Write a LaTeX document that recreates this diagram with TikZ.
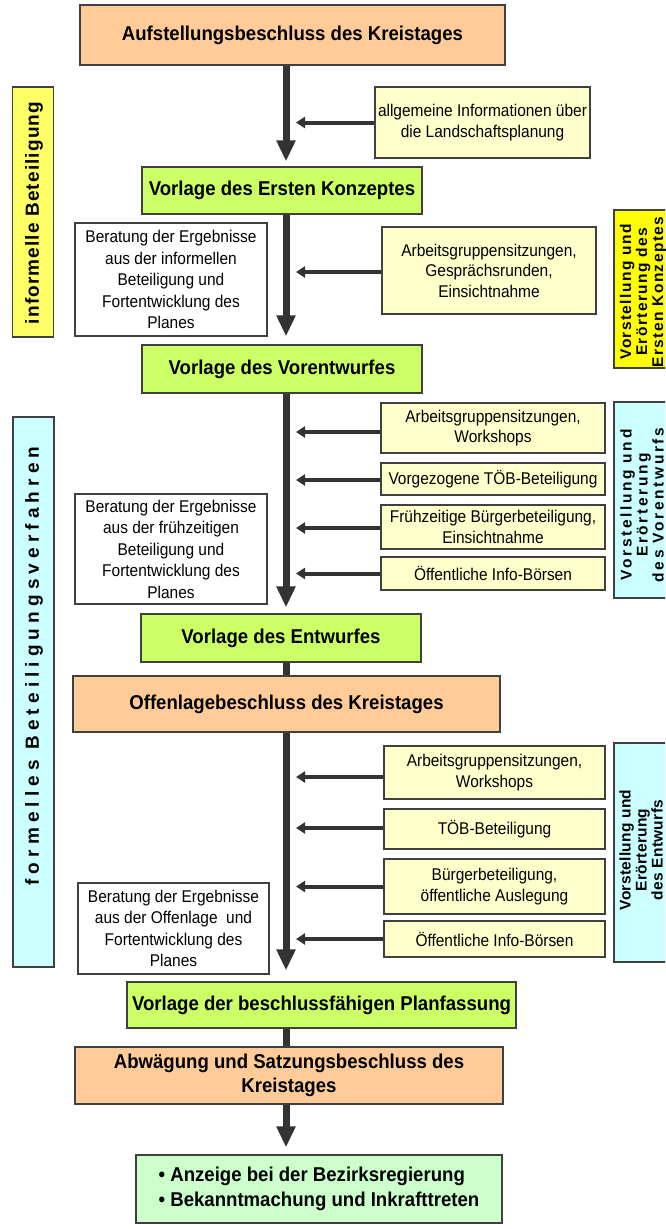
\documentclass[tikz,border=0pt]{standalone}
\usepackage{fontspec}
\setmainfont{Liberation Sans}[FakeStretch=0.91, BoldFeatures={FakeStretch=0.93}]
\newfontfamily\vfont{Liberation Sans}
\usetikzlibrary{arrows.meta,calc}
\definecolor{borderc}{HTML}{404040}
\definecolor{arrowc}{HTML}{333333}
\definecolor{orangef}{HTML}{FFCC99}
\definecolor{greenf}{HTML}{CCFF66}
\definecolor{lyellow}{HTML}{FFFFCC}
\definecolor{lblue}{HTML}{CCFFFF}
\definecolor{lgreen}{HTML}{CCFFCC}
\definecolor{yelA}{HTML}{FFFF66}
\definecolor{yelB}{HTML}{FFFF00}
\begin{document}
\begin{tikzpicture}[x=1pt,y=-1pt,
  box/.style={draw=borderc, line width=1.2pt, inner sep=0pt, align=center, rectangle},
  titlebox/.style={box, font=\fontsize{20}{23.5}\selectfont\bfseries},
  sidebox/.style={box, fill=lyellow, font=\fontsize{17}{20.5}\selectfont},
  leftbox/.style={box, fill=white, font=\fontsize{17}{21.5}\selectfont},
  vbox/.style={box},
  vtext/.style={rotate=90, align=center, inner sep=0pt},
  mainarrow/.style={draw=arrowc, line width=7pt, -{Triangle[width=18pt,length=21pt]}},
  stemline/.style={draw=arrowc, line width=7pt},
  sidearrow/.style={draw=arrowc, line width=4pt, -{Triangle[width=11pt,length=9pt]}}
]
\useasboundingbox (0,0) rectangle (665,1229);
\clip (0,0) rectangle (665,1229);
\fill[white] (0,0) rectangle (665,1229);
\coordinate (ax) at (286,0);
\coordinate (tipx) at (296,0);

% left vertical boxes
\node[vbox, fill=yelA, minimum width=41pt, minimum height=250pt] (infL) at (33,212) {};
\node[vtext, font=\vfont\bfseries\fontsize{19}{22}\selectfont\addfontfeature{LetterSpace=6}] (infLt) at (34,213) {informelle Beteiligung};
\node[vbox, fill=lblue, minimum width=41pt, minimum height=550pt] (formL) at (33.5,692) {};
\node[vtext, font=\vfont\bfseries\fontsize{19}{22}\selectfont\addfontfeature{LetterSpace=27}] (formLt) at (34,666) {formelles Beteiligungsverfahren};

% right vertical boxes
\node[vbox, fill=yelB, minimum width=58pt, minimum height=158pt] (yR1) at (643,289) {};
\node[vtext, font=\vfont\bfseries\fontsize{15.5}{16}\selectfont\addfontfeature{LetterSpace=9}] (yR1t) at (643,292) {Vorstellung und\\Erörterung des\\Ersten Konzeptes};
\node[vbox, fill=lblue, minimum width=58pt, minimum height=196pt] (bR2) at (643,500) {};
\node[vtext, font=\vfont\bfseries\fontsize{15.5}{16}\selectfont\addfontfeature{LetterSpace=17}] (bR2t) at (642,505) {Vorstellung und\\Erörterung\\des Vorentwurfs};
\node[vbox, fill=lblue, minimum width=58pt, minimum height=219pt] (bR3) at (643,852.5) {};
\node[vtext, font=\vfont\bfseries\fontsize{15.5}{16}\selectfont\addfontfeature{LetterSpace=2}] (bR3t) at (641,850) {Vorstellung und\\Erörterung\\des Entwurfs};

% main flow
\node[titlebox, fill=orangef, minimum width=425pt, minimum height=60pt] (top) at (292.5,35) {Aufstellungsbeschluss des Kreistages};
\node[sidebox, minimum width=215pt, minimum height=71pt] (info1) at (482.5,122.5) {allgemeine Informationen über\\die Landschaftsplanung};
\node[titlebox, fill=greenf, minimum width=280pt, minimum height=47pt] (g1) at (282,190.5) {Vorlage des Ersten Konzeptes};
\node[leftbox, minimum width=192pt, minimum height=113pt] (bl1) at (171,279.5) {Beratung der Ergebnisse\\aus der informellen\\Beteiligung und\\Fortentwicklung des\\Planes};
\node[sidebox, minimum width=214pt, minimum height=87pt] (info2) at (489,270.5) {Arbeitsgruppensitzungen,\\Gesprächsrunden,\\Einsichtnahme};
\node[titlebox, fill=greenf, minimum width=280pt, minimum height=48pt] (g2) at (282,369) {Vorlage des Vorentwurfes};

\node[sidebox, minimum width=224pt, minimum height=50pt] (r1) at (493,428) {Arbeitsgruppensitzungen,\\Workshops};
\node[sidebox, minimum width=224pt, minimum height=32pt] (r2) at (493,479) {Vorgezogene TÖB-Beteiligung};
\node[sidebox, minimum width=224pt, minimum height=44pt] (r3) at (493,527) {Frühzeitige Bürgerbeteiligung,\\Einsichtnahme};
\node[sidebox, minimum width=224pt, minimum height=33pt] (r4) at (493,573.5) {Öffentliche Info-Börsen};
\node[leftbox, minimum width=192pt, minimum height=110pt] (bl2) at (171,549) {Beratung der Ergebnisse\\aus der frühzeitigen\\Beteiligung und\\Fortentwicklung des\\Planes};

\node[titlebox, fill=greenf, minimum width=280pt, minimum height=48pt] (g3) at (281,638) {Vorlage des Entwurfes};
\node[titlebox, fill=orangef, minimum width=427pt, minimum height=56pt] (o2) at (286.5,704) {Offenlagebeschluss des Kreistages};

\node[sidebox, minimum width=221pt, minimum height=53pt] (s1) at (494.5,772.5) {Arbeitsgruppensitzungen,\\Workshops};
\node[sidebox, minimum width=221pt, minimum height=40pt] (s2) at (494.5,829) {TÖB-Beteiligung};
\node[sidebox, minimum width=221pt, minimum height=55pt] (s3) at (494.5,886.5) {Bürgerbeteiligung,\\öffentliche Auslegung};
\node[sidebox, minimum width=221pt, minimum height=36pt] (s4) at (494.5,939) {Öffentliche Info-Börsen};
\node[leftbox, minimum width=191pt, minimum height=91pt] (bl3) at (173.5,928.5) {Beratung der Ergebnisse\\aus der Offenlage\ \ und\\Fortentwicklung des\\Planes};

\node[titlebox, fill=greenf, minimum width=389pt, minimum height=46pt] (g4) at (321.5,1005) {Vorlage der beschlussfähigen Planfassung};
\node[titlebox, fill=orangef, minimum width=428pt, minimum height=57pt] (o3) at (289,1075.5) {Abwägung und Satzungsbeschluss des\\Kreistages};
\node[titlebox, fill=lgreen, align=left, minimum width=366pt, minimum height=68pt, font=\fontsize{20}{25}\selectfont\bfseries] (fin) at (319,1189) {• Anzeige bei der Bezirksregierung\\• Bekanntmachung und Inkrafttreten};

% main arrows
\draw[mainarrow] (top.south -| ax) -- ([yshift=5pt]g1.north -| ax);
\draw[mainarrow] (g1.south -| ax) -- ([yshift=8pt]g2.north -| ax);
\draw[mainarrow] (g2.south -| ax) -- ([yshift=6pt]g3.north -| ax);
\draw[stemline] (g3.south -| ax) -- (o2.north -| ax);
\draw[mainarrow] (o2.south -| ax) -- ([yshift=11pt]g4.north -| ax);
\draw[stemline] (g4.south -| ax) -- (o3.north -| ax);
\draw[mainarrow] (o3.south -| ax) -- ([yshift=7pt]fin.north -| ax);

% side arrows
\draw[sidearrow] (info1.west) -- (info1.west -| tipx);
\draw[sidearrow] ([yshift=-1.5pt]info2.west) -- ([yshift=-1.5pt]info2.west -| tipx);
\draw[sidearrow] ([yshift=-4pt]r1.west) -- ([yshift=-4pt]r1.west -| tipx);
\draw[sidearrow] ([yshift=-1pt]r2.west) -- ([yshift=-1pt]r2.west -| tipx);
\draw[sidearrow] ([yshift=-1pt]r3.west) -- ([yshift=-1pt]r3.west -| tipx);
\draw[sidearrow] (r4.west) -- (r4.west -| tipx);
\draw[sidearrow] ([yshift=-4.5pt]s1.west) -- ([yshift=-4.5pt]s1.west -| tipx);
\draw[sidearrow] ([yshift=1pt]s2.west) -- ([yshift=1pt]s2.west -| tipx);
\draw[sidearrow] (s3.west) -- (s3.west -| tipx);
\draw[sidearrow] (s4.west) -- (s4.west -| tipx);
\end{tikzpicture}
\end{document}
